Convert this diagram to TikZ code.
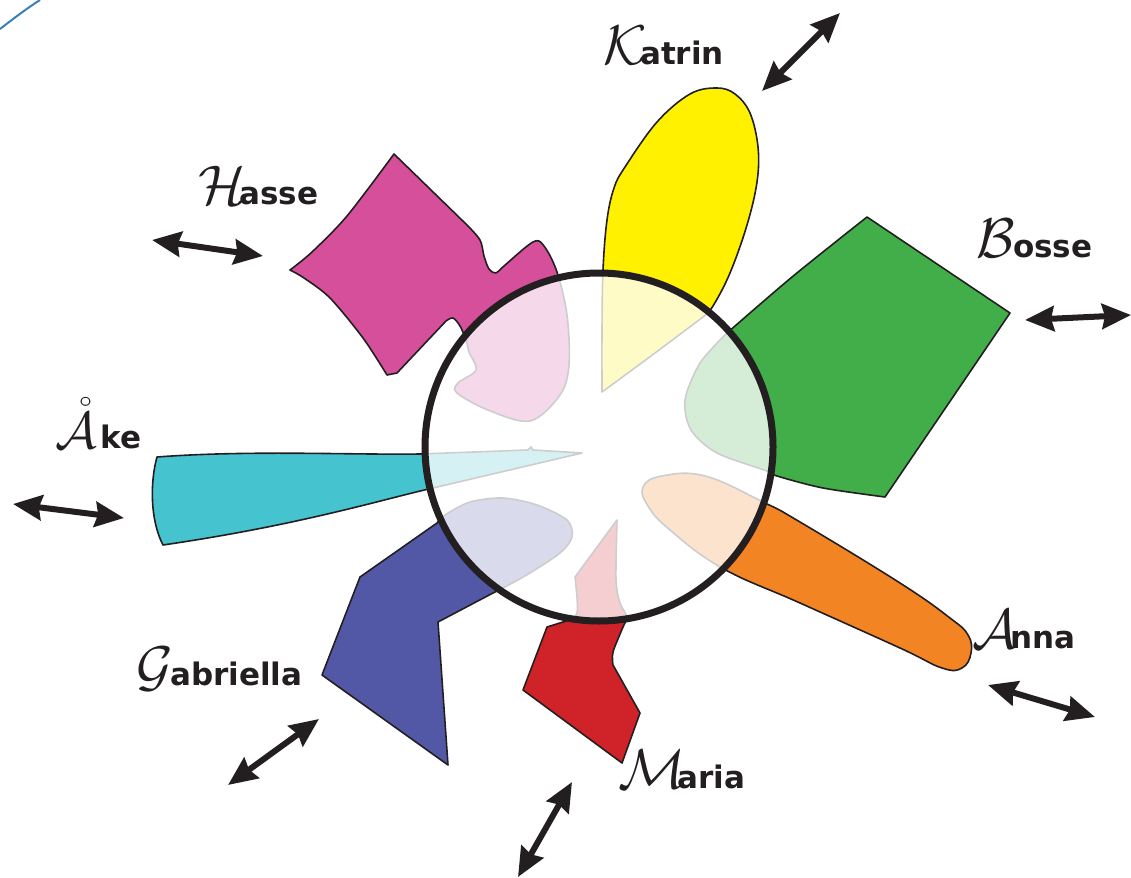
\documentclass[tikz,border=0pt]{standalone}
\usepackage{fontspec}
\usepackage{graphicx}
\newfontfamily\lblfont{DejaVu Sans}
\usetikzlibrary{arrows.meta}
\definecolor{ink}{HTML}{231F20}
\definecolor{cpink}{HTML}{D64F9B}
\definecolor{cyellow}{HTML}{FFF100}
\definecolor{cgreen}{HTML}{41AE4A}
\definecolor{corange}{HTML}{F38424}
\definecolor{ccyan}{HTML}{45C3CF}
\definecolor{cblue}{HTML}{5358A6}
\definecolor{cred}{HTML}{CF2329}
\definecolor{cline}{HTML}{3B7FB8}
\begin{document}
\begin{tikzpicture}[x=1pt,y=-1pt,
  petal/.style={draw=ink, line width=1.6pt, line join=round},
  dbl/.style={draw=ink, line width=6pt,
    {Stealth[length=29pt,width=25pt,inset=3pt]}-{Stealth[length=29pt,width=25pt,inset=3pt]}},
  capl/.style={anchor=base west, inner sep=0pt, text=ink},
  lbl/.style={anchor=base west, inner sep=0pt, text=ink,
    font=\lblfont\bfseries\fontsize{31}{31}\selectfont},
]
\useasboundingbox (0,0) rectangle (1131,877);

% top-left blue line
\draw[cline, line width=2pt] (0,29) .. controls (13,19) and (26,9) .. (40,0);

% Hasse (pink)
\filldraw[petal, fill=cpink] (394,154) -- (467,225)
  -- plot[smooth, tension=0.55] coordinates {(467,225) (480,240) (484,256) (489,269) (496,273) (504,266) (533,242) (544,246) (557,272) (567,315) (569,365) (560,395) (530,421) (488,410) (457,393) (458,383) (476,370) (469,352) (466,340) (460,326) (453,318) (446,321)}
  -- (397,373) -- (387,375)
  -- plot[smooth, tension=0.5] coordinates {(387,375) (363,338) (330,298) (304,278) (290,270)}
  -- plot[smooth, tension=0.5] coordinates {(290,270) (312,252) (347,216) (394,154)}
  -- cycle;

% Katrin (yellow)
\filldraw[petal, fill=cyellow] plot[smooth, tension=0.6] coordinates {(602,392) (602,330) (603,270) (607,220) (614,188) (625,167) (657,122) (690,94) (717,88) (735,94) (750,113) (758,147) (757,182) (747,225) (730,273) (713,306) (703,317)}
  -- plot[smooth] coordinates {(703,317) (655,353) (602,392)} -- cycle;

% Bosse (green)
\filldraw[petal, fill=cgreen] (727,333)
  -- plot[smooth] coordinates {(727,333) (792,277) (867,217)}
  -- (1010,313) -- (885,497)
  -- plot[smooth] coordinates {(885,497) (823,488) (777,476) (767,471) (717,453) (691,430) (685,400) (700,363) (727,333)}
  -- cycle;

% Anna (orange)
\filldraw[petal, fill=corange] plot[smooth cycle, tension=0.7] coordinates {(643,487) (662,476) (705,476) (763,502) (800,522) (900,583) (950,618) (968,635) (971,653) (962,668) (942,668) (900,648) (800,603) (722,568) (670,530) (648,506)};

% Maria (red)
\filldraw[petal, fill=cred] (547,627) -- (563,622)
  -- plot[smooth, tension=0.5] coordinates {(563,622) (577,613) (575,577)}
  -- (617,520)
  -- plot[smooth, tension=0.5] coordinates {(617,520) (616,580) (620,603) (627,617) (623,627) (613,652) (613,665)}
  -- (640,713) -- (622,763) -- (523,690) -- cycle;

% Gabriella (blue)
\filldraw[petal, fill=cblue] (437,523) -- (360,577) -- (322,675) -- (448,765) -- (438,622) -- (493,593)
  -- plot[smooth] coordinates {(493,593) (503,588) (530,573) (560,553) (572,537) (567,520) (537,505) (503,498) (470,502) (445,515) (437,523)}
  -- cycle;

% Ake (cyan)
\filldraw[petal, fill=ccyan] (157,457) .. controls (250,450) and (350,455) .. (420,454)
  -- (528,450) -- (531,447) -- (533,450) -- (582,453) -- (433,488)
  .. controls (380,500) and (300,525) .. (163,545)
  .. controls (150,520) and (150,482) .. (157,457) -- cycle;

% magnifier
\coordinate (C) at (599,447);
\fill[white, opacity=0.78] (C) circle[radius=174pt];
\draw[ink, line width=7pt] (C) circle[radius=174pt];

% arrows
\coordinate (katA) at (762,91);  \coordinate (katB) at (840,13);
\coordinate (hasA) at (152,240); \coordinate (hasB) at (263,256);
\coordinate (bosA) at (1025,320); \coordinate (bosB) at (1131,315);
\coordinate (akeA) at (13,504);  \coordinate (akeB) at (124,518);
\coordinate (gabA) at (228,785); \coordinate (gabB) at (319,719);
\coordinate (marA) at (572,782); \coordinate (marB) at (518,877);
\coordinate (annA) at (988,685); \coordinate (annB) at (1095,717);
\draw[dbl] (katA) -- (katB);
\draw[dbl] (hasA) -- (hasB);
\draw[dbl] (bosA) -- (bosB);
\draw[dbl] (akeA) -- (akeB);
\draw[dbl] (gabA) -- (gabB);
\draw[dbl] (marA) -- (marB);
\draw[dbl] (annA) -- (annB);

% labels
\node[capl] (katC) at (603,65) {\scalebox{5.6}{$\mathcal{K}$}};
\node[lbl]  (katT) at (640,65) {atrin};
\node[capl] (hasC) at (198,205) {\scalebox{5.6}{$\mathcal{H}$}};
\node[lbl]  (hasT) at (239,205) {asse};
\node[capl] (bosC) at (976,258) {\scalebox{5.6}{$\mathcal{B}$}};
\node[lbl]  (bosT) at (1013,258) {osse};
\node[capl] (akeC) at (55,448) {\scalebox{5.2}{$\mathring{\mathcal{A}}$}};
\node[lbl]  (akeT) at (100,448) {ke};
\node[capl] (gabC) at (136,685) {\scalebox{5.6}{$\mathcal{G}$}};
\node[lbl]  (gabT) at (170,685) {abriella};
\node[capl] (marC) at (618,788) {\scalebox{5.6}{$\mathcal{M}$}};
\node[lbl]  (marT) at (677,788) {aria};
\node[capl] (annC) at (972,648) {\scalebox{5.6}{$\mathcal{A}$}};
\node[lbl]  (annT) at (1010,648) {nna};
\end{tikzpicture}
\end{document}
